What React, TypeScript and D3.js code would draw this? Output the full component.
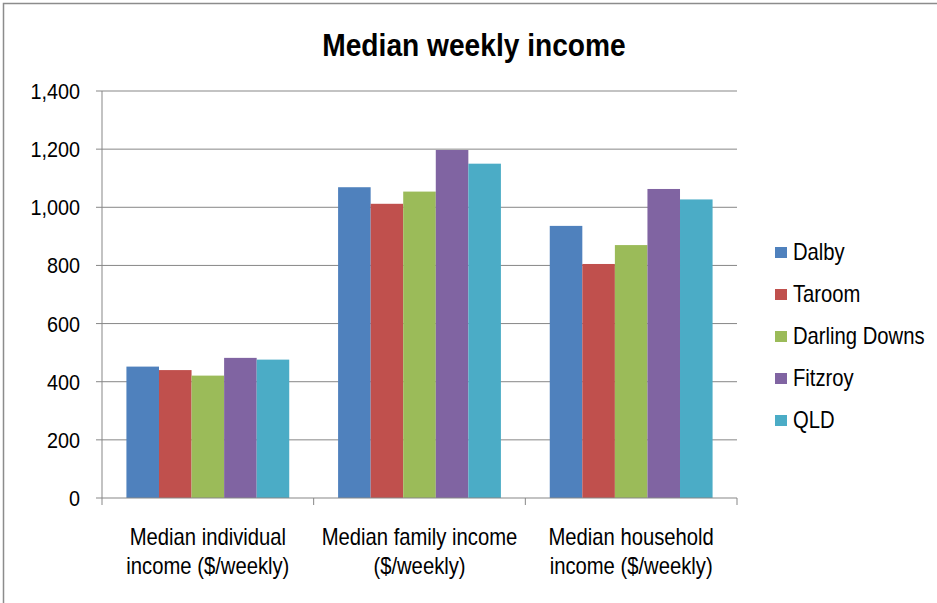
import React from "react";
import * as d3 from "d3";

const categories = [
  ["Median individual", "income ($/weekly)"],
  ["Median family income", "($/weekly)"],
  ["Median household", "income ($/weekly)"],
];
const seriesNames = ["Dalby", "Taroom", "Darling Downs", "Fitzroy", "QLD"];
const dalby = [452, 1069, 936];
const taroom = [440, 1012, 805];
const darlingDowns = [421, 1054, 870];
const fitzroy = [482, 1197, 1063];
const qld = [476, 1150, 1027];
const seriesValues = [dalby, taroom, darlingDowns, fitzroy, qld];
const colors = ["#4F81BD", "#C0504D", "#9BBB59", "#8064A2", "#4BACC6"];
const yTicks = [0, 200, 400, 600, 800, 1000, 1200, 1400];

const W = 937;
const H = 603;
const plot = { left: 102, right: 737, top: 91, bottom: 498 };
const FONT = "'Liberation Sans', Arial, sans-serif";
const SX = 0.88;

function SText(props: {
  x: number;
  y: number;
  size: number;
  anchor?: "start" | "middle" | "end";
  bold?: boolean;
  children: React.ReactNode;
}) {
  const { x, y, size, anchor = "start", bold = false, children } = props;
  return (
    <g transform={`translate(${x},${y}) scale(${SX},1)`}>
      <text
        x={0}
        y={0}
        fontFamily={FONT}
        fontSize={size}
        fontWeight={bold ? "bold" : "normal"}
        textAnchor={anchor}
        dominantBaseline="central"
        fill="#000"
      >
        {children}
      </text>
    </g>
  );
}

export default function App() {
  const x0 = d3
    .scaleBand<number>()
    .domain(categories.map((_, i) => i))
    .range([plot.left, plot.right])
    .paddingInner(0)
    .paddingOuter(0);
  const bw = x0.bandwidth();
  const barW = bw / 6.5;
  const x1 = d3
    .scaleBand<number>()
    .domain(seriesNames.map((_, i) => i))
    .range([barW * 0.75, bw - barW * 0.75])
    .padding(0);
  const y = d3.scaleLinear().domain([0, 1400]).range([plot.bottom, plot.top]);
  const fmt = d3.format(",");
  const grid = "#878787";

  return (
    <svg
      width={W}
      height={H}
      style={{ position: "absolute", left: 0, top: 0, background: "#fff" }}
    >
      <rect x={0} y={0} width={W} height={H} fill="#fff" />
      <rect
        x={3.5}
        y={3.5}
        width={W + 20}
        height={H + 20}
        fill="none"
        stroke="#8c8c8c"
        strokeWidth={1.5}
      />
      <SText x={474} y={45} size={32} anchor="middle" bold>
        Median weekly income
      </SText>

      {yTicks.map((t) => (
        <g key={t}>
          {t > 0 && (
            <line
              x1={plot.left}
              x2={plot.right}
              y1={y(t)}
              y2={y(t)}
              stroke={grid}
              strokeWidth={1}
            />
          )}
          <line x1={plot.left - 6} x2={plot.left} y1={y(t)} y2={y(t)} stroke={grid} />
          <SText x={80} y={y(t)} size={22.5} anchor="end">
            {fmt(t)}
          </SText>
        </g>
      ))}

      {seriesValues.map((vals, s) =>
        vals.map((v, c) => (
          <rect
            key={`${s}-${c}`}
            x={(x0(c) as number) + (x1(s) as number)}
            y={y(v)}
            width={x1.bandwidth()}
            height={y(0) - y(v)}
            fill={colors[s]}
          />
        ))
      )}

      <line x1={plot.left} x2={plot.left} y1={plot.top} y2={plot.bottom} stroke={grid} />
      <line x1={plot.left} x2={plot.right} y1={plot.bottom} y2={plot.bottom} stroke={grid} />
      {d3.range(categories.length + 1).map((i) => {
        const xx = plot.left + i * bw;
        return (
          <line key={i} x1={xx} x2={xx} y1={plot.bottom} y2={plot.bottom + 7} stroke={grid} />
        );
      })}

      {categories.map((lines, c) => (
        <g key={c}>
          {lines.map((ln, k) => (
            <SText
              key={k}
              x={(x0(c) as number) + bw / 2}
              y={537 + k * 29}
              size={23}
              anchor="middle"
            >
              {ln}
            </SText>
          ))}
        </g>
      ))}

      {seriesNames.map((name, s) => {
        const cy = 252 + s * 42;
        return (
          <g key={name}>
            <rect x={775} y={cy - 5} width={12} height={11} fill={colors[s]} />
            <SText x={793} y={cy} size={23}>
              {name}
            </SText>
          </g>
        );
      })}
    </svg>
  );
}
